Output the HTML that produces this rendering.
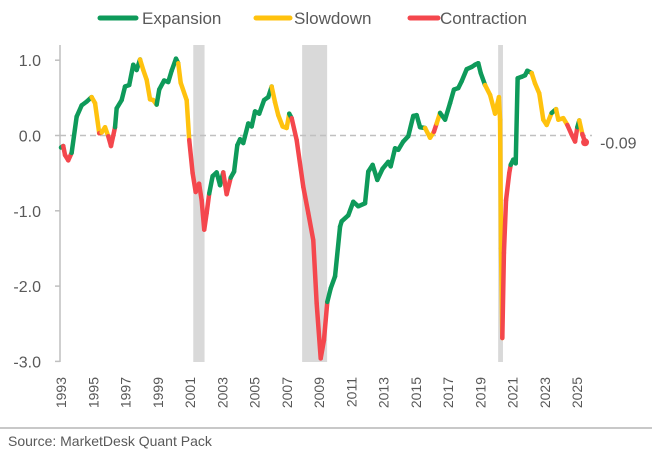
<!DOCTYPE html>
<html><head><meta charset="utf-8"><style>
body{margin:0;background:#fff;}
svg{display:block;font-family:"Liberation Sans",sans-serif;}
</style></head><body>
<svg id="chart" width="652" height="461" viewBox="0 0 652 461">
<g id="legend">
 <g><line x1="100" y1="18" x2="136" y2="18" stroke="#0E9A5A" stroke-width="5" stroke-linecap="round"/><text x="142" y="24" font-size="17" fill="#595959">Expansion</text></g>
 <g><line x1="256" y1="18" x2="290" y2="18" stroke="#FFC20E" stroke-width="5" stroke-linecap="round"/><text x="294" y="24" font-size="17" fill="#595959">Slowdown</text></g>
 <g><line x1="410" y1="18" x2="438" y2="18" stroke="#F4474D" stroke-width="5" stroke-linecap="round"/><text x="440" y="24" font-size="17" fill="#595959">Contraction</text></g>
</g>
<g id="bands"></g>
<line x1="60" y1="45" x2="60" y2="362" stroke="#BFBFBF" stroke-width="1.5"/>
<g id="yaxis"></g>
<g id="xaxis"></g>
<line id="zero" stroke="#C0C0C0" stroke-width="1.5" stroke-dasharray="6,4"/>
<g id="series"></g>
<line x1="0" y1="428" x2="652" y2="428" stroke="#C8C8C8" stroke-width="2"/>
<text x="8" y="446" font-size="14" fill="#595959">Source: MarketDesk Quant Pack</text>
</svg>
<script>
const years=[1993.0,1993.14,1993.25,1993.45,1993.66,1993.97,1994.28,1994.59,1994.90,1995.11,1995.37,1995.52,1995.73,1995.93,1996.10,1996.35,1996.45,1996.76,1996.97,1997.23,1997.48,1997.69,1997.90,1998.10,1998.31,1998.52,1998.72,1998.93,1999.09,1999.39,1999.65,1999.86,2000.13,2000.27,2000.42,2000.79,2000.95,2001.16,2001.35,2001.56,2001.72,2001.88,2002.03,2002.19,2002.40,2002.65,2002.86,2003.06,2003.27,2003.52,2003.73,2003.93,2004.10,2004.30,2004.61,2004.82,2005.03,2005.29,2005.59,2005.85,2006.06,2006.27,2006.47,2006.74,2006.99,2007.15,2007.30,2007.61,2008.02,2008.33,2008.64,2008.85,2009.10,2009.30,2009.51,2009.72,2009.99,2010.30,2010.40,2010.81,2011.12,2011.43,2011.85,2012.05,2012.32,2012.61,2012.94,2013.29,2013.44,2013.71,2013.91,2014.22,2014.53,2014.84,2015.05,2015.26,2015.57,2015.88,2016.12,2016.29,2016.50,2016.81,2017.12,2017.36,2017.63,2017.84,2018.15,2018.46,2018.67,2018.87,2019.02,2019.29,2019.60,2019.91,2020.15,2020.22,2020.28,2020.36,2020.46,2020.59,2020.79,2020.88,2021.04,2021.19,2021.31,2021.56,2021.77,2021.91,2022.18,2022.39,2022.65,2022.90,2023.11,2023.42,2023.69,2023.83,2024.14,2024.39,2024.66,2024.87,2025.01,2025.13,2025.32,2025.49];
const values=[-0.16,-0.14,-0.26,-0.33,-0.23,0.25,0.40,0.45,0.51,0.43,0.03,0.04,0.11,-0.01,-0.14,0.11,0.36,0.47,0.65,0.67,0.94,0.87,1.01,0.87,0.74,0.48,0.47,0.41,0.61,0.73,0.71,0.86,1.02,0.96,0.70,0.47,-0.06,-0.50,-0.75,-0.64,-0.86,-1.25,-1.03,-0.77,-0.54,-0.49,-0.66,-0.49,-0.78,-0.56,-0.48,-0.13,-0.05,-0.10,0.16,0.12,0.32,0.29,0.47,0.51,0.65,0.44,0.27,0.12,0.10,0.29,0.23,-0.06,-0.68,-1.03,-1.39,-2.23,-2.96,-2.72,-2.21,-2.03,-1.87,-1.21,-1.14,-1.06,-0.88,-0.94,-0.90,-0.48,-0.39,-0.59,-0.44,-0.35,-0.41,-0.17,-0.19,-0.08,-0.01,0.26,0.27,0.11,0.10,-0.03,0.05,0.16,0.30,0.21,0.43,0.61,0.63,0.72,0.88,0.91,0.94,0.96,0.83,0.67,0.54,0.29,0.51,0.21,-1.50,-2.69,-1.56,-0.86,-0.50,-0.39,-0.32,-0.37,0.76,0.78,0.80,0.86,0.83,0.69,0.56,0.21,0.14,0.30,0.35,0.21,0.23,0.14,0.01,-0.08,0.11,0.20,0.02,-0.09];
const regimes="EECCCEEEESSCSSCCEEEEEEESSSSSEEEEEESSSCCCCCCCEEEECCEEEEEEEEEEESSSSSECCCCCCCCEEEEEEEEEEEEEEEEEEEEEESSCSEEEEEEEEEEESSSSSSCCCCEEEEEEESSSSSESSSCCCESC";
const recessions=[[2001.2,2001.9],[2007.95,2009.5],[2020.1,2020.4]];
const yTicks=[1,0,-1,-2,-3];
const yTickLabels=["1.0","0.0","-1.0","-2.0","-3.0"];
const xTicks=[1993,1995,1997,1999,2001,2003,2005,2007,2009,2011,2013,2015,2017,2019,2021,2023,2025];
const lastLabel="-0.09";
const colors={E:"#0E9A5A",S:"#FFC20E",C:"#F4474D"};
const NS="http://www.w3.org/2000/svg";
const X=y=>61+(y-1993)*16.13;
const Y=v=>135.5-v*75.3;
function mk(t,a,p){const e=document.createElementNS(NS,t);for(const k in a)e.setAttribute(k,a[k]);p.appendChild(e);return e;}
const bands=document.getElementById('bands');
recessions.forEach(r=>{const e=mk('rect',{x:X(r[0]),y:45,width:X(r[1])-X(r[0]),height:317,fill:"#D9D9D9"},bands);

});
const ya=document.getElementById('yaxis');
yTicks.forEach((v,i)=>{mk('line',{x1:55,x2:60,y1:Y(v),y2:Y(v),stroke:"#BFBFBF","stroke-width":1.5},ya);
const t=mk('text',{x:41,y:Y(v)+6,"font-size":16,fill:"#595959","text-anchor":"end"},ya);t.textContent=yTickLabels[i];

});
const xa=document.getElementById('xaxis');
xTicks.forEach(yr=>{const t=mk('text',{transform:`translate(${X(yr)+5},377) rotate(-90)`,"font-size":14,fill:"#595959","text-anchor":"end"},xa);t.textContent=yr;

});
const z=document.getElementById('zero');z.setAttribute('x1',60);z.setAttribute('x2',592);z.setAttribute('y1',Y(0));z.setAttribute('y2',Y(0));
const s=document.getElementById('series');
for(let i=1;i<years.length;i++){const l=mk('line',{x1:X(years[i-1]),y1:Y(values[i-1]),x2:X(years[i]),y2:Y(values[i]),stroke:colors[regimes[i]],"stroke-width":4.5,"stroke-linecap":"round"},s);

}
const n=years.length-1;
const d=mk('circle',{cx:X(years[n]),cy:Y(values[n]),r:4,fill:colors[regimes[n]]},s);


const lt=mk('text',{x:X(years[n])+15,y:Y(values[n])+6,"font-size":16,fill:"#595959"},s);lt.textContent=lastLabel;


</script>
</body></html>
